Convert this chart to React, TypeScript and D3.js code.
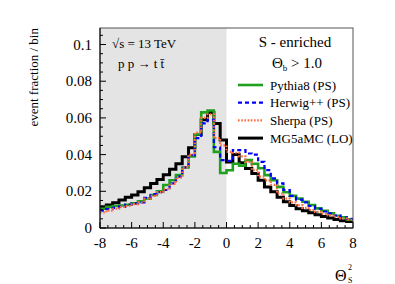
import React from "react";
import * as d3 from "d3";

const W = 395;
const H = 284;

// 40 bins of width 0.4 from -8 to 8
const binEdges: number[] = d3.range(41).map((i) => -8 + i * 0.4);

const pythia8: number[] = [
  0.0105, 0.0115, 0.012, 0.0123, 0.0127, 0.0135, 0.0145, 0.016, 0.018, 0.02,
  0.0234, 0.026, 0.0288, 0.033, 0.039, 0.051, 0.063, 0.064, 0.0415, 0.03,
  0.0315, 0.035, 0.034, 0.037, 0.035, 0.0326, 0.0288, 0.026, 0.0224, 0.0195,
  0.0175, 0.016, 0.0143, 0.0125, 0.0107, 0.0094, 0.008, 0.0067, 0.0058, 0.0047,
];
const herwig: number[] = [
  0.0094, 0.0103, 0.011, 0.0116, 0.0128, 0.0134, 0.014, 0.0165, 0.0185, 0.0195,
  0.0207, 0.0243, 0.028, 0.033, 0.0397, 0.049, 0.057, 0.059, 0.044, 0.037,
  0.0366, 0.0424, 0.0424, 0.0406, 0.04, 0.036, 0.0315, 0.027, 0.0243, 0.0207,
  0.0175, 0.0155, 0.014, 0.012, 0.0105, 0.009, 0.008, 0.0068, 0.0058, 0.005,
];
const sherpa: number[] = [
  0.0085, 0.0095, 0.0105, 0.0115, 0.012, 0.013, 0.014, 0.016, 0.0175, 0.0195,
  0.021, 0.024, 0.0275, 0.033, 0.04, 0.052, 0.06, 0.062, 0.049, 0.045,
  0.0415, 0.041, 0.039, 0.036, 0.0315, 0.028, 0.026, 0.0235, 0.0188, 0.016,
  0.014, 0.0125, 0.011, 0.0098, 0.0088, 0.0078, 0.0068, 0.006, 0.0052, 0.0045,
];
const mg5amc: number[] = [
  0.0116, 0.0125, 0.0138, 0.0152, 0.0167, 0.018, 0.0197, 0.022, 0.0243, 0.0265,
  0.029, 0.032, 0.035, 0.0388, 0.0437, 0.051, 0.059, 0.063, 0.057, 0.048,
  0.036, 0.04, 0.0355, 0.0324, 0.0297, 0.026, 0.0224, 0.0197, 0.0167, 0.0143,
  0.0122, 0.0105, 0.0094, 0.0083, 0.0072, 0.0062, 0.0054, 0.0046, 0.004, 0.0035,
];

const xTickLabels: number[] = [-8, -6, -4, -2, 0, 2, 4, 6, 8];
const yTickLabels: number[] = [0, 0.02, 0.04, 0.06, 0.08, 0.1];
const legendLabels: string[] = ["Pythia8 (PS)", "Herwig++ (PS)", "Sherpa (PS)", "MG5aMC (LO)"];

const FONT = "'Liberation Serif', 'DejaVu Serif', serif";

export default function App() {
  const left = 100, right = 353, top = 28, bottom = 228;
  const x = d3.scaleLinear().domain([-8, 8]).range([left, right]);
  const y = d3.scaleLinear().domain([0, 0.109]).range([bottom, top]);

  const stepPath = (vals: number[]) => {
    const pts: [number, number][] = [];
    vals.forEach((v, i) => {
      pts.push([x(binEdges[i]), y(v)]);
      pts.push([x(binEdges[i + 1]), y(v)]);
    });
    return d3.line()(pts) || "";
  };

  const series = [
    { name: legendLabels[3], vals: mg5amc, color: "#000000", width: 3, dash: "" },
    { name: legendLabels[0], vals: pythia8, color: "#1fa01f", width: 2.6, dash: "" },
    { name: legendLabels[1], vals: herwig, color: "#0000ff", width: 2.2, dash: "4,3" },
    { name: legendLabels[2], vals: sherpa, color: "#ff6a3d", width: 2.2, dash: "1.6,1.6" },
  ];
  const legendOrder = [series[1], series[2], series[3], series[0]];

  const xMinor = d3.range(33).map((i) => -8 + i * 0.5);
  const yMinor = d3.range(22).map((i) => i * 0.005);

  return (
    <svg width={W} height={H} style={{ position: "fixed", left: 0, top: 0, background: "#fff" }} fontFamily={FONT}>
      <rect x={0} y={0} width={W} height={H} fill="#fff" />
      <rect x={x(-8)} y={top} width={x(0) - x(-8)} height={bottom - top} fill="#e4e4e4" />
      <clipPath id="plotclip">
        <rect x={left} y={top} width={right - left} height={bottom - top} />
      </clipPath>
      <g clipPath="url(#plotclip)">
        {series.map((s) => (
          <path key={s.name} d={stepPath(s.vals)} fill="none" stroke={s.color} strokeWidth={s.width}
            strokeDasharray={s.dash || undefined} strokeLinejoin="miter" />
        ))}
      </g>
      {/* frame */}
      <rect x={left} y={top} width={right - left} height={bottom - top} fill="none" stroke="#555" strokeWidth={1} />
      <line x1={left} x2={left} y1={top} y2={bottom} stroke="#000" />
      <line x1={left} x2={right} y1={bottom} y2={bottom} stroke="#000" />
      {/* x ticks */}
      {xMinor.map((v, i) => (
        <line key={"xt" + i} x1={x(v)} x2={x(v)} y1={bottom} y2={bottom - (i % 4 === 0 ? 6 : 3)} stroke="#000" />
      ))}
      {xTickLabels.map((v) => (
        <text key={"xl" + v} x={x(v)} y={248} textAnchor="middle" fontSize={15}>{v}</text>
      ))}
      {/* y ticks */}
      {yMinor.map((v, i) => (
        <line key={"yt" + i} x1={left} x2={left + (i % 4 === 0 ? 6 : 3)} y1={y(v)} y2={y(v)} stroke="#000" />
      ))}
      {yTickLabels.map((v) => (
        <text key={"yl" + v} x={92} y={y(v) + 5} textAnchor="end" fontSize={15}>{String(v)}</text>
      ))}
      {/* axis titles */}
      <text transform={`translate(38, ${top}) rotate(-90)`} textAnchor="end" fontSize={13}>event fraction / bin</text>
      <text x={335} y={281} fontSize={16}>Θ</text>
      <text x={348} y={270} fontSize={8}>2</text>
      <text x={348} y={283} fontSize={8}>S</text>
      {/* top-left labels */}
      <text x={112} y={48} fontSize={13}>√s = 13 TeV</text>
      <text x={118} y={68} fontSize={13}>p p → t t̄</text>
      {/* legend */}
      <text x={295} y={47} textAnchor="middle" fontSize={15}>S - enriched</text>
      <text x={272} y={68} fontSize={15}>Θ<tspan fontSize={9} dy={3}>b</tspan><tspan dy={-3}> &gt; 1.0</tspan></text>
      {legendOrder.map((s, i) => {
        const ly = 85 + i * 17.7;
        return (
          <g key={"lg" + i}>
            <line x1={238} x2={263} y1={ly} y2={ly} stroke={s.color} strokeWidth={s.width}
              strokeDasharray={s.dash || undefined} />
            <text x={270} y={ly + 4.5} fontSize={13}>{s.name}</text>
          </g>
        );
      })}
    </svg>
  );
}
